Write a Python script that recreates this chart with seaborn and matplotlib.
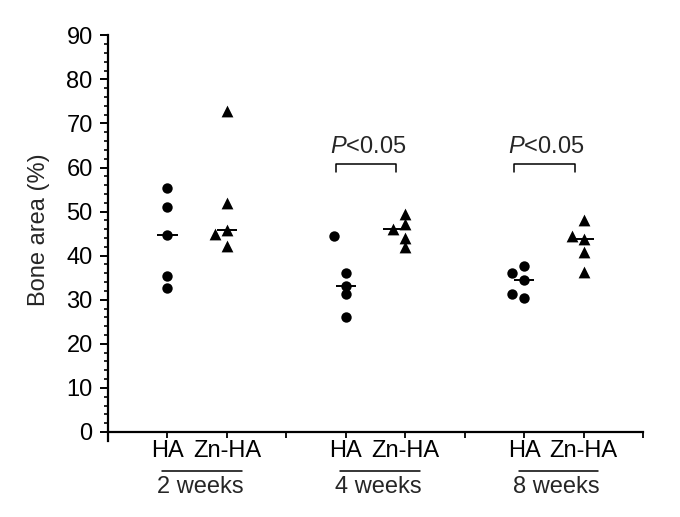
import numpy as np
import pandas as pd
import matplotlib
matplotlib.use("Agg")
import matplotlib.pyplot as plt
import matplotlib.transforms as mtransforms
from matplotlib.lines import Line2D
from matplotlib.ticker import FixedLocator
import seaborn as sns

# ---------------- data ----------------
weeks = ["2 weeks", "4 weeks", "8 weeks"]
materials = ["HA", "Zn-HA"]
ha_2wk = [55.4, 51.1, 44.7, 35.4, 32.6]
zn_2wk = [72.8, 52.0, 45.8, 45.0, 42.2]
ha_4wk = [44.4, 36.1, 33.2, 31.4, 26.0]
zn_4wk = [49.4, 47.1, 46.0, 44.1, 41.9]
ha_8wk = [37.6, 36.1, 34.5, 31.4, 30.5]
zn_8wk = [48.1, 44.5, 43.8, 40.9, 36.2]
significant = ["4 weeks", "8 weeks"]
p_label = "$P$<0.05"
y_label = "Bone area (%)"

values = {
    ("2 weeks", "HA"): ha_2wk, ("2 weeks", "Zn-HA"): zn_2wk,
    ("4 weeks", "HA"): ha_4wk, ("4 weeks", "Zn-HA"): zn_4wk,
    ("8 weeks", "HA"): ha_8wk, ("8 weeks", "Zn-HA"): zn_8wk,
}

# ---------------- layout (horizontal nudges of overlapping points) ----------------
nudges = {
    ("2 weeks", "HA"): [0, 0, 0, 0, 0], ("2 weeks", "Zn-HA"): [0, 0, 0, -0.2, 0],
    ("4 weeks", "HA"): [-0.2, 0, 0, 0, 0], ("4 weeks", "Zn-HA"): [0, 0, -0.2, 0, 0],
    ("8 weeks", "HA"): [0, -0.2, 0, -0.2, 0], ("8 weeks", "Zn-HA"): [0, -0.2, 0, 0, 0],
}

def base_pos(gi, mi):
    return 3 * gi + 1 + mi

rows = []
for gi, w in enumerate(weeks):
    for mi, m in enumerate(materials):
        for v, n in zip(values[(w, m)], nudges[(w, m)]):
            rows.append({"week": w, "material": m, "x": base_pos(gi, mi) + n, "value": v})
df = pd.DataFrame(rows)

# ---------------- style ----------------
sns.set_style("ticks")
plt.rcParams["font.family"] = ["Liberation Sans", "DejaVu Sans"]
plt.rcParams["mathtext.fontset"] = "custom"
plt.rcParams["mathtext.rm"] = "Liberation Sans"
plt.rcParams["mathtext.it"] = "Liberation Sans:italic"
FS = 17

fig = plt.figure(figsize=(6.8, 5.17), dpi=100)
ax = fig.add_axes([0.1588, 0.1474, 0.7868, 0.7843])

sns.scatterplot(data=df[df.material == "HA"], x="x", y="value", marker="o",
                s=56, color="black", linewidth=0, ax=ax, zorder=3)
sns.scatterplot(data=df[df.material == "Zn-HA"], x="x", y="value", marker="^",
                s=72, color="black", linewidth=0, ax=ax, zorder=3)

# median lines, centred on the median point
for gi, w in enumerate(weeks):
    for mi, m in enumerate(materials):
        vals = np.array(values[(w, m)])
        med = np.median(vals)
        idx = int(np.argmin(np.abs(vals - med)))
        xc = base_pos(gi, mi) + nudges[(w, m)][idx]
        ax.hlines(med, xc - 0.17, xc + 0.17, color="black", lw=1.4, zorder=4)

# significance brackets
for gi, w in enumerate(weeks):
    if w not in significant:
        continue
    x0 = base_pos(gi, 0) - 0.17
    x1 = base_pos(gi, 1) - 0.15
    yb = 60.8
    ax.plot([x0, x0, x1, x1], [yb - 1.9, yb, yb, yb - 1.9], color="black", lw=1.1)
    ax.text((base_pos(gi, 0) + base_pos(gi, 1)) / 2 - 0.13, 63.2, p_label,
            ha="center", va="baseline", fontsize=FS)

# axes
ax.set_xlim(0, 9)
ax.set_ylim(-2, 90)
ax.spines["bottom"].set_position(("data", 0))
ax.spines["top"].set_visible(False)
ax.spines["right"].set_visible(False)
for s in ["left", "bottom"]:
    ax.spines[s].set_linewidth(1.6)
    ax.spines[s].set_color("black")

ax.set_yticks(np.arange(0, 91, 10))
ax.yaxis.set_minor_locator(FixedLocator(np.arange(0, 91, 2)))
ax.tick_params(axis="y", which="major", length=6, width=1.4, labelsize=FS, pad=5, colors="black")
ax.tick_params(axis="y", which="minor", length=3, width=1.2, colors="black")

xt = list(range(10))
xl = []
for i in xt:
    r = i % 3
    xl.append("" if r == 0 else materials[r - 1])
ax.set_xticks(xt)
ax.set_xticklabels(xl)
ax.tick_params(axis="x", which="major", length=4, width=1.3, labelsize=FS, pad=2, colors="black")

ax.set_xlabel("")
ax.set_ylabel(y_label, fontsize=FS)
ax.yaxis.set_label_coords(-0.108, 0.52)

# group labels under tick labels
trans = mtransforms.blended_transform_factory(ax.transData, ax.transAxes)
for gi, w in enumerate(weeks):
    a = base_pos(gi, 0) - 0.09
    b = base_pos(gi, 1) + 0.25
    ax.add_line(Line2D([a, b], [-0.0745, -0.0745], transform=trans, color="black",
                       lw=1.1, clip_on=False))
    ax.text((a + b) / 2 - 0.03, -0.128, w, transform=trans, ha="center", va="baseline",
            fontsize=FS)

fig.savefig("out.png", dpi=100)
